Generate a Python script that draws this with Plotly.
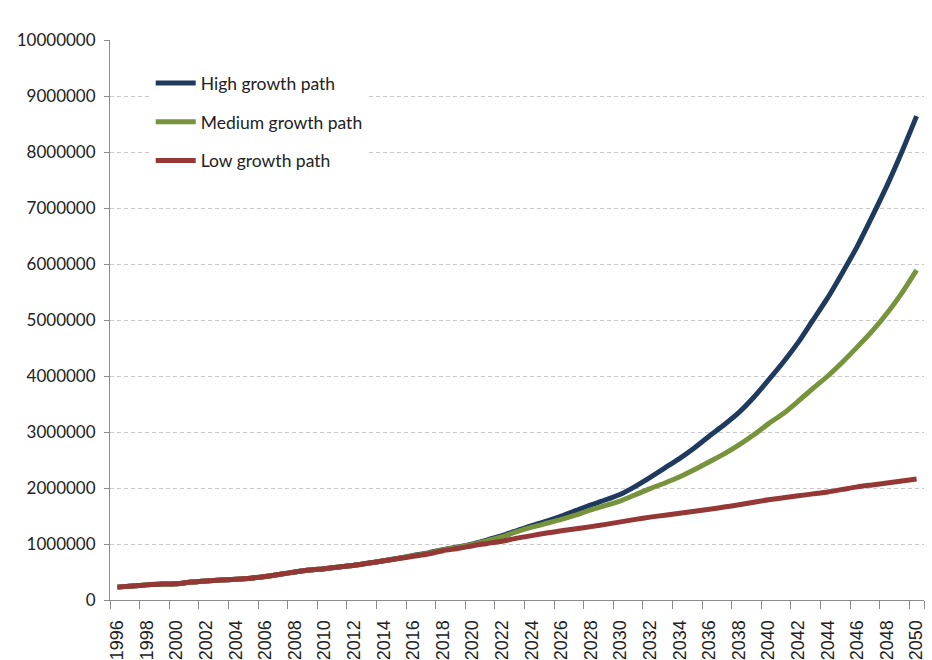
import plotly.graph_objects as go

years = list(range(1996, 2051))

low_growth = [
    230000, 250000, 270000, 285000, 290000, 320000, 340000, 355000, 370000, 390000,
    420000, 460000, 500000, 535000, 560000, 590000, 620000, 660000, 700000, 740000,
    780000, 820000, 880000, 920000, 970000, 1010000, 1050000, 1105000, 1150000, 1195000,
    1235000, 1272000, 1310000, 1350000, 1395000, 1440000, 1480000, 1515000, 1550000, 1585000,
    1620000, 1660000, 1700000, 1745000, 1790000, 1825000, 1860000, 1895000, 1930000, 1975000,
    2020000, 2055000, 2090000, 2125000, 2160000,
]

medium_growth = [
    230000, 250000, 270000, 285000, 290000, 320000, 340000, 355000, 370000, 390000,
    420000, 460000, 500000, 535000, 560000, 590000, 620000, 660000, 700000, 745000,
    790000, 835000, 895000, 940000, 990000, 1060000, 1130000, 1220000, 1300000, 1370000,
    1440000, 1520000, 1610000, 1690000, 1770000, 1880000, 1990000, 2090000, 2200000, 2330000,
    2470000, 2610000, 2770000, 2950000, 3150000, 3330000, 3550000, 3780000, 4000000, 4250000,
    4520000, 4800000, 5120000, 5480000, 5890000,
]

high_growth = [
    230000, 250000, 270000, 285000, 290000, 320000, 340000, 355000, 370000, 390000,
    420000, 460000, 500000, 535000, 560000, 590000, 620000, 660000, 700000, 745000,
    795000, 840000, 900000, 945000, 1000000, 1075000, 1150000, 1240000, 1330000, 1410000,
    1500000, 1600000, 1700000, 1790000, 1890000, 2030000, 2190000, 2360000, 2530000, 2720000,
    2930000, 3130000, 3350000, 3620000, 3930000, 4250000, 4600000, 5000000, 5400000, 5850000,
    6320000, 6850000, 7400000, 8000000, 8640000,
]

label_years = list(range(1996, 2051, 2))
y_ticks = list(range(0, 10000001, 1000000))

series = [
    ("High growth path", high_growth, "#1F3A5F"),
    ("Medium growth path", medium_growth, "#77933C"),
    ("Low growth path", low_growth, "#953735"),
]

fig = go.Figure()
for name, values, color in series:
    fig.add_trace(go.Scatter(
        x=years, y=values, name=name, mode="lines",
        line=dict(color=color, width=5, shape="spline", smoothing=0.6),
        legendgroup=name,
    ))

fig.update_layout(
    width=932, height=660,
    margin=dict(l=110, r=8, t=40, b=60),
    paper_bgcolor="white", plot_bgcolor="white",
    showlegend=True,
    legend=dict(
        x=0.05, y=0.955, xanchor="left", yanchor="top",
        bgcolor="white",
        font=dict(family="Lato", size=17.5, color="#222222"),
        traceorder="grouped", tracegroupgap=13,
        itemwidth=40,
    ),
)

fig.update_xaxes(
    range=[1995.5, 2050.5],
    tickmode="array", tickvals=label_years, ticktext=[str(y) for y in label_years],
    tickangle=-90, ticks="", ticklabelstandoff=12,
    tickfont=dict(family="Liberation Sans", size=18, color="#222222"),
    showline=True, linecolor="#8C8C8C", linewidth=1,
    showgrid=False, zeroline=False, automargin=False,
    minor=dict(
        tickmode="array", tickvals=[y - 0.5 for y in label_years] + [2050.5],
        ticks="outside", ticklen=8, tickcolor="#8C8C8C", showgrid=False,
    ),
)

fig.update_yaxes(
    range=[0, 10000000],
    tickmode="array", tickvals=y_ticks, ticktext=[str(v) for v in y_ticks],
    ticks="outside", ticklen=5, tickcolor="#8C8C8C", ticklabelstandoff=5,
    tickfont=dict(family="Lato", size=17, color="#222222"),
    showline=True, linecolor="#8C8C8C", linewidth=1,
    showgrid=True, gridcolor="#C8C8C8", griddash="4px,3px", gridwidth=1,
    zeroline=False, automargin=False,
)

fig.write_html("out.html")
